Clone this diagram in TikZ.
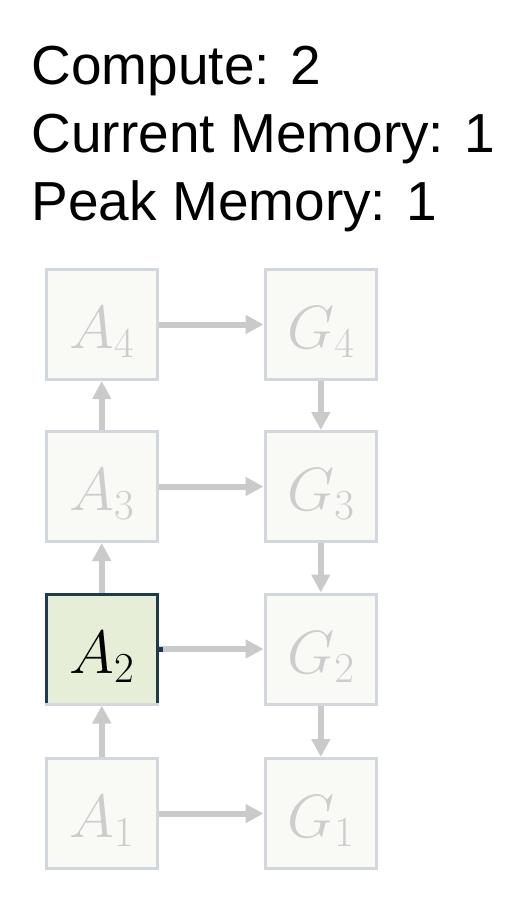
\RequirePackage{fix-cm}
\documentclass[tikz,border=0pt]{standalone}
\usepackage{fontspec}
\setmainfont{Liberation Sans}
\usetikzlibrary{arrows.meta}
\definecolor{boxfill}{HTML}{F9FAF6}
\definecolor{boxline}{HTML}{D2D7DD}
\definecolor{arrowgray}{HTML}{CACACA}
\definecolor{txtgray}{HTML}{CDCDCD}
\definecolor{activefill}{HTML}{E6EED8}
\definecolor{activeline}{HTML}{1C3A50}
\begin{document}
\begin{tikzpicture}[x=1pt,y=1pt,
  cell/.style={draw=boxline, fill=boxfill, line width=3pt,
    minimum width=111.5pt, minimum height=110pt, inner sep=0pt,
    text height=48pt, text depth=0pt,
    text=txtgray, font=\fontsize{61}{61}\selectfont},
  activecell/.style={cell, draw=activeline, fill=activefill, text=black},
  flow/.style={draw=arrowgray, line width=6pt, -{Triangle[width=18pt,length=18pt]}},
  infotext/.style={anchor=base west, font=\fontsize{55}{66}\selectfont, inner sep=0pt}]
\useasboundingbox (0,0) rectangle (528,-902);

\node[infotext] (t1) at (31.5,-84) {Compute: 2};
\node[infotext] (t2) at (31.5,-152) {Current Memory: 1};
\node[infotext] (t3) at (31.5,-220) {Peak Memory: 1};

\node[cell] (A4) at (101.75,-324.5) {$A_4$};
\node[cell] (A3) at (101.75,-486.5) {$A_3$};
\node[activecell] (A2) at (101.75,-649) {$A_2$};
\node[cell] (A1) at (101.75,-813.5) {$A_1$};

\node[cell] (G4) at (320.8,-324.5) {$G_4$};
\node[cell] (G3) at (320.8,-486.5) {$G_3$};
\node[cell] (G2) at (320.8,-649) {$G_2$};
\node[cell] (G1) at (320.8,-813.5) {$G_1$};

\draw[boxline, line width=3pt] ([yshift=1.5pt]A2.south west) -- ([yshift=1.5pt]A2.south east);

\draw[flow] (A1) -- (A2);
\draw[flow] (A2) -- (A3);
\draw[flow] (A3) -- (A4);
\draw[flow] (G4) -- (G3);
\draw[flow] (G3) -- (G2);
\draw[flow] (G2) -- (G1);
\draw[flow] (A1) -- (G1);
\draw[flow] (A2) -- (G2);
\draw[flow] (A3) -- (G3);
\draw[flow] (A4) -- (G4);

\draw[activeline, line width=5pt] (A2.east) -- ++(4,0);
\end{tikzpicture}
\end{document}
